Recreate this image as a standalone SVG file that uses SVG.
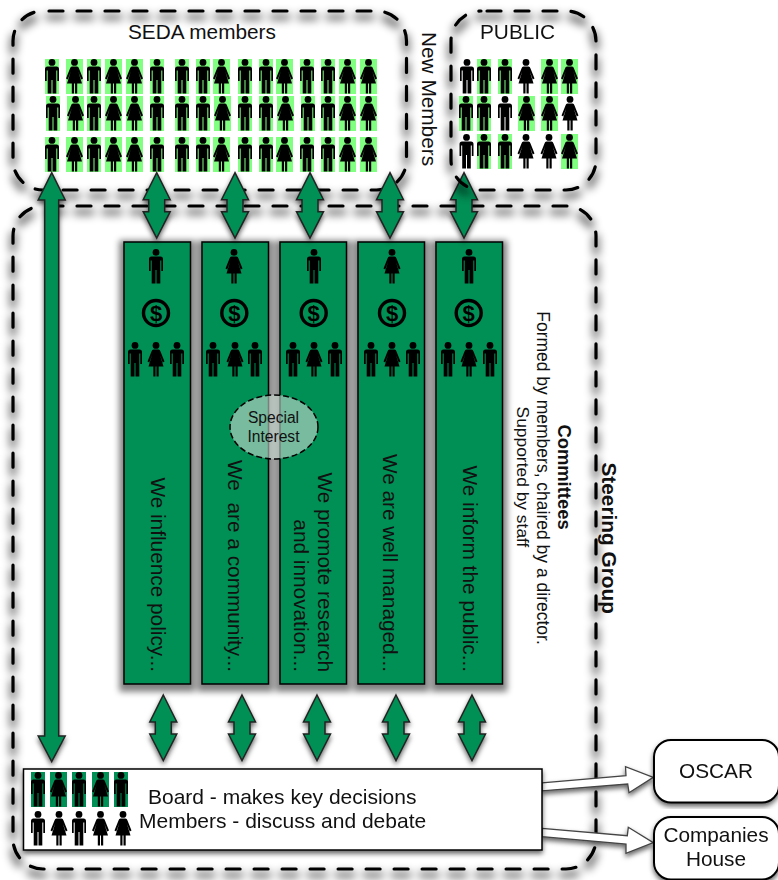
<svg xmlns="http://www.w3.org/2000/svg" width="778" height="880" viewBox="0 0 778 880">
<style>
text{font-family:"Liberation Sans",Arial,sans-serif;fill:#111;white-space:pre}
.dash{fill:none;stroke:#000;stroke-width:3.2;stroke-linecap:round;stroke-dasharray:14 14}
.col{fill:#008f54;stroke:#000;stroke-width:1.5}
.arr{fill:#008f54;stroke:#222;stroke-width:1.5;stroke-linejoin:miter}
.hol{fill:#fff;stroke:#444;stroke-width:1.3}
.box{fill:#fff;stroke:#000;stroke-width:1.5}
.t21{font-size:20.800px}
.mid{text-anchor:middle}
.end{text-anchor:end}
</style>
<defs>
<filter id="s1" x="-10%" y="-10%" width="120%" height="125%"><feMorphology in="SourceAlpha" operator="dilate" radius="1.500"/><feGaussianBlur stdDeviation="4"/><feOffset dy="6" result="b"/><feComponentTransfer in="b" result="c"><feFuncA type="linear" slope=".5"/></feComponentTransfer><feMerge><feMergeNode in="c"/><feMergeNode in="SourceGraphic"/></feMerge></filter>
<filter id="s2" x="-30%" y="-10%" width="160%" height="120%"><feDropShadow dx="0" dy="3" stdDeviation="2.500" flood-color="#000" flood-opacity=".6"/></filter>
<filter id="s3" x="-10%" y="-10%" width="120%" height="120%"><feMorphology in="SourceAlpha" operator="dilate" radius="4"/><feGaussianBlur stdDeviation="3"/><feOffset dy="3" result="b"/><feComponentTransfer in="b" result="c"><feFuncA type="linear" slope=".5"/></feComponentTransfer><feMerge><feMergeNode in="c"/><feMergeNode in="SourceGraphic"/></feMerge></filter>
<g id="man"><circle cx="7" cy="3.400" r="3.400"/><path d="M2.500 7.500H11.500Q14 7.500 14 10V22H12.300V11.500H11.300V34.500H7.500V21H6.500V34.500H2.700V11.500H1.700V22H0V10Q0 7.500 2.500 7.500Z"/></g>
<g id="wom"><circle cx="8.500" cy="3.400" r="3.400"/><path d="M6 7.500H11Q12.500 7.500 13 9.500L17 19.500L15.200 20.500L12.300 12.500L16 24.500H11.200V34.500H9V24.500H8V34.500H5.800V24.500H1L4.700 12.500L1.800 20.500L0 19.500L4 9.500Q4.500 7.500 6 7.500Z"/></g>
<g id="mg"><rect width="14" height="35" fill="#80ff80"/><use href="#man"/></g>
<g id="wg"><rect width="17" height="35" fill="#80ff80"/><use href="#wom"/></g>
<g id="md"><rect width="14" height="35" fill="#008f54"/><use href="#man"/></g>
<g id="wd"><rect width="17" height="35" fill="#008f54"/><use href="#wom"/></g>
<g id="dollar"><circle r="12.500" fill="none" stroke="#000" stroke-width="3.400"/><text y="8" class="mid" style="font-size:22px;font-weight:bold;fill:#000">$</text></g>
<path id="dbl" class="arr" d="M0 0L13.500 27H8V39H13.500L0 65.500L-13.500 39H-8V27H-13.500Z"/>
</defs>

<g id="seda-members">
<rect class="dash" x="13" y="11" width="393.500" height="179" rx="30" stroke-dashoffset="-6" filter="url(#s1)"/>
<text x="128" y="39" style="font-size:20.800px">SEDA members</text>
<use href="#mg" x="45" y="59"/><use href="#wg" x="66" y="59"/><use href="#mg" x="87" y="59"/><use href="#wg" x="105" y="59"/><use href="#wg" x="126" y="59"/><use href="#mg" x="150" y="59"/><use href="#mg" x="175" y="59"/><use href="#mg" x="196" y="59"/><use href="#wg" x="213" y="59"/><use href="#mg" x="238" y="59"/><use href="#mg" x="259" y="59"/><use href="#wg" x="276" y="59"/><use href="#mg" x="300" y="59"/><use href="#mg" x="321" y="59"/><use href="#wg" x="339" y="59"/><use href="#wg" x="360" y="59"/>
<use href="#mg" x="46" y="96"/><use href="#wg" x="67" y="96"/><use href="#mg" x="87" y="96"/><use href="#wg" x="105" y="96"/><use href="#wg" x="126" y="96"/><use href="#mg" x="150" y="96"/><use href="#mg" x="175" y="96"/><use href="#mg" x="196" y="96"/><use href="#wg" x="214" y="96"/><use href="#mg" x="238" y="96"/><use href="#mg" x="259" y="96"/><use href="#wg" x="277" y="96"/><use href="#mg" x="301" y="96"/><use href="#mg" x="321" y="96"/><use href="#wg" x="339" y="96"/><use href="#wg" x="360" y="96"/>
<use href="#mg" x="45" y="137"/><use href="#wg" x="66" y="137"/><use href="#mg" x="87" y="137"/><use href="#wg" x="105" y="137"/><use href="#wg" x="126" y="137"/><use href="#mg" x="150" y="137"/><use href="#mg" x="175" y="137"/><use href="#mg" x="196" y="137"/><use href="#wg" x="213" y="137"/><use href="#mg" x="238" y="137"/><use href="#mg" x="259" y="137"/><use href="#wg" x="276" y="137"/><use href="#mg" x="300" y="137"/><use href="#mg" x="321" y="137"/><use href="#wg" x="339" y="137"/><use href="#wg" x="360" y="137"/>
</g>

<g id="new-members"><text class="t21" transform="translate(421.500,32) rotate(90)">New Members</text></g>

<g id="steering-group"><rect class="dash" x="13" y="206" width="583" height="663" rx="30" stroke-dashoffset="-6" filter="url(#s1)"/></g>

<g id="committees" filter="url(#s3)">
<g id="committee-1"><rect class="col" x="124" y="242" width="66.500" height="442"/></g>
<g id="committee-2"><rect class="col" x="202" y="242" width="66.500" height="442"/></g>
<g id="committee-3"><rect class="col" x="280" y="242" width="66.500" height="442"/></g>
<g id="committee-4"><rect class="col" x="358" y="242" width="66.500" height="442"/></g>
<g id="committee-5"><rect class="col" x="436" y="242" width="66.500" height="442"/></g>
</g>
<g id="committee-contents">
<use href="#man" x="149" y="249"/><use href="#dollar" x="156" y="313"/><use href="#man" x="128" y="342"/><use href="#wom" x="147.500" y="342"/><use href="#man" x="170" y="342"/>
<use href="#wom" x="225.500" y="249"/><use href="#dollar" x="234.300" y="313"/><use href="#man" x="206" y="342"/><use href="#wom" x="226.500" y="342"/><use href="#man" x="248" y="342"/>
<use href="#man" x="307" y="249"/><use href="#dollar" x="313.700" y="313"/><use href="#man" x="286" y="342"/><use href="#wom" x="305.500" y="342"/><use href="#man" x="328" y="342"/>
<use href="#wom" x="383.500" y="249"/><use href="#dollar" x="392" y="313"/><use href="#man" x="364" y="342"/><use href="#wom" x="383.500" y="342"/><use href="#man" x="406" y="342"/>
<use href="#man" x="462" y="249"/><use href="#dollar" x="468.700" y="313"/><use href="#man" x="441" y="342"/><use href="#wom" x="460.500" y="342"/><use href="#man" x="483" y="342"/>
<text class="t21 end" transform="translate(150.700,672) rotate(90)">We influence policy...</text>
<text class="t21 end" transform="translate(228.300,672) rotate(90)">We  are a community...</text>
<text class="t21 end" transform="translate(318.300,672) rotate(90)">We promote research</text>
<text class="t21 end" transform="translate(294,672) rotate(90)">and innovation...</text>
<text class="t21 end" transform="translate(383.300,672) rotate(90)">We are well managed...</text>
<text class="t21 end" transform="translate(462.700,672) rotate(90)">We inform the public...</text>
</g>

<g id="special-interest">
<ellipse cx="274" cy="427" rx="44" ry="32" fill="#c8d8d0" fill-opacity=".6" stroke="#000" stroke-width="1.500" stroke-dasharray="6 3"/>
<text class="mid" x="273.500" y="423" style="font-size:15.600px">Special</text>
<text class="mid" x="273.500" y="442" style="font-size:15.600px">Interest</text>
</g>

<g id="committees-label">
<text class="mid" transform="translate(558.300,477) rotate(90)" style="font-size:18.400px;font-weight:bold">Committees</text>
<text class="mid" transform="translate(537.300,478) rotate(90)" style="font-size:17.500px">Formed by members, chaired by a director.</text>
<text class="mid" transform="translate(516.700,477) rotate(90)" style="font-size:17.400px">Supported by staff</text>
</g>
<g id="steering-label"><text class="t21" transform="translate(601.700,462.500) rotate(90)" style="font-weight:bold">Steering Group</text></g>

<g id="connectors" filter="url(#s2)">
<path class="arr" d="M51.700 172.700L65.200 200H58.700V736H65.200L51.700 761.700L38.200 736H44.700V200H38.200Z"/>
<use href="#dbl" x="156.700" y="172.700"/><use href="#dbl" x="235" y="172.700"/><use href="#dbl" x="310" y="172.700"/><use href="#dbl" x="390" y="172.700"/><use href="#dbl" x="464" y="172.700"/>
<use href="#dbl" x="163.300" y="695"/><use href="#dbl" x="242" y="695"/><use href="#dbl" x="317" y="695"/><use href="#dbl" x="396" y="695"/><use href="#dbl" x="472" y="695"/>
<path class="hol" d="M542 782.800L626 775.700L625.500 766.700L653.300 777.300L629 792.700L627.700 784L542 790.800Z"/>
<path class="hol" d="M542 828.300L627.300 835.700L628.300 827.300L653.300 842.700L626 853.300L626 844L542 836.700Z"/>
</g>

<g id="public">
<rect class="dash" x="451" y="11" width="145" height="179" rx="30" stroke-dashoffset="-6" filter="url(#s1)"/>
<text x="480" y="39" class="t21">PUBLIC</text>
<use href="#man" x="460" y="59"/><use href="#mg" x="477" y="59"/><use href="#mg" x="498" y="59"/><use href="#wom" x="517.500" y="59"/><use href="#wg" x="541" y="59"/><use href="#wg" x="561" y="59"/>
<use href="#mg" x="459" y="96"/><use href="#mg" x="477" y="96"/><use href="#man" x="498" y="96"/><use href="#wg" x="518" y="96"/><use href="#wg" x="541" y="96"/><use href="#wom" x="561.500" y="96"/>
<use href="#man" x="459.500" y="134"/><use href="#mg" x="477" y="134"/><use href="#mg" x="498" y="134"/><use href="#wom" x="517.500" y="134"/><use href="#wom" x="540.500" y="134"/><use href="#wg" x="561" y="134"/>
</g>

<g id="board">
<rect class="box" x="23.500" y="769" width="518.500" height="81" filter="url(#s2)"/>
<use href="#md" x="31" y="772"/><use href="#wd" x="50" y="772"/><use href="#md" x="72" y="772"/><use href="#wd" x="92" y="772"/><use href="#md" x="114" y="772"/>
<use href="#man" x="31" y="811"/><use href="#wom" x="50.500" y="811"/><use href="#man" x="72" y="811"/><use href="#wom" x="92" y="811"/><use href="#wom" x="114.500" y="811"/>
<text x="148" y="804" style="font-size:21px">Board - makes key decisions</text>
<text x="139" y="828" style="font-size:21px">Members - discuss and debate</text>
</g>

<g id="oscar"><rect class="box" style="stroke-width:2" x="654" y="740" width="125" height="62.500" rx="17" filter="url(#s2)"/><text class="t21 mid" x="716" y="778">OSCAR</text></g>
<g id="companies-house"><rect class="box" style="stroke-width:2" x="654" y="817" width="125" height="62.500" rx="17" filter="url(#s2)"/><text class="t21 mid" x="716" y="842">Companies</text><text class="t21 mid" x="716" y="866">House</text></g>
</svg>
